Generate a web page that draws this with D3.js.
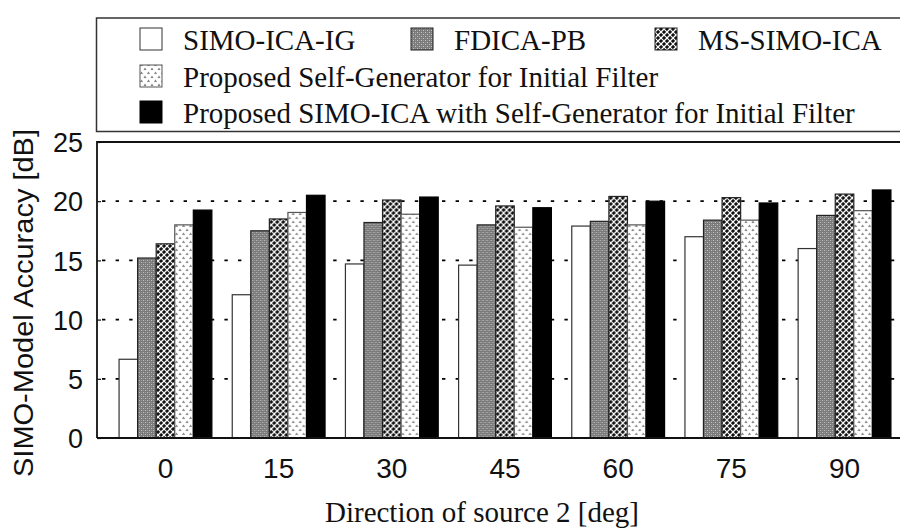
<!DOCTYPE html>
<html>
<head>
<meta charset="utf-8">
<script src="https://cdn.jsdelivr.net/npm/d3@7"></script>
<style>
  html, body { margin: 0; padding: 0; background: #fff; }
  svg { display: block; }
</style>
</head>
<body>
<svg id="chart" width="900" height="528"></svg>
<script>
// Direction of source 2 (deg)
const categories = ["0", "15", "30", "45", "60", "75", "90"];

// SIMO-model accuracy in dB for each method
const simoIcaIg       = [6.65, 12.1, 14.7, 14.6, 17.9, 17.0, 16.0];
const fdicaPb         = [15.2, 17.5, 18.2, 18.0, 18.3, 18.4, 18.8];
const msSimoIca       = [16.4, 18.5, 20.1, 19.6, 20.4, 20.3, 20.6];
const proposedSelfGen = [18.0, 19.05, 18.9, 17.8, 18.0, 18.4, 19.2];
const proposedSimoIca = [19.25, 20.5, 20.35, 19.45, 20.0, 19.85, 20.95];

const seriesNames = [
  "SIMO-ICA-IG",
  "FDICA-PB",
  "MS-SIMO-ICA",
  "Proposed Self-Generator for Initial Filter",
  "Proposed SIMO-ICA with Self-Generator for Initial Filter"
];
const seriesValues = [simoIcaIg, fdicaPb, msSimoIca, proposedSelfGen, proposedSimoIca];

const yTicks = [0, 5, 10, 15, 20, 25];
const yGrid = [5, 10, 15, 20];

const svg = d3.select("#chart");
const defs = svg.append("defs");

// Fill patterns for the monochrome bars
// fine grey screen
const pGray = defs.append("pattern").attr("id", "pGray")
  .attr("patternUnits", "userSpaceOnUse").attr("width", 4).attr("height", 4);
pGray.append("rect").attr("width", 4).attr("height", 4).attr("fill", "#7a7a7a");
pGray.append("rect").attr("x", 0).attr("y", 0).attr("width", 1).attr("height", 1).attr("fill", "#c4c4c4");
pGray.append("rect").attr("x", 2).attr("y", 2).attr("width", 1).attr("height", 1).attr("fill", "#c4c4c4");
pGray.append("rect").attr("x", 2).attr("y", 0).attr("width", 1).attr("height", 1).attr("fill", "#999");
pGray.append("rect").attr("x", 0).attr("y", 2).attr("width", 1).attr("height", 1).attr("fill", "#999");

// woven black/white lattice
const pWeave = defs.append("pattern").attr("id", "pWeave")
  .attr("patternUnits", "userSpaceOnUse").attr("width", 6).attr("height", 6);
pWeave.append("rect").attr("width", 6).attr("height", 6).attr("fill", "#111");
pWeave.append("path").attr("d", "M-1,1 L1,-1 M0,6 L6,0 M5,7 L7,5")
  .attr("stroke", "#fff").attr("stroke-width", 1.3);
pWeave.append("path").attr("d", "M-1,5 L1,7 M0,0 L6,6 M5,-1 L7,1")
  .attr("stroke", "#fff").attr("stroke-width", 1.1);

// sparse grey caret dots
const pDots = defs.append("pattern").attr("id", "pDots")
  .attr("patternUnits", "userSpaceOnUse").attr("width", 7).attr("height", 8);
pDots.append("rect").attr("width", 7).attr("height", 8).attr("fill", "#fff");
pDots.append("path").attr("d", "M0.5,3 L1.5,1.5 L2.5,3 M4,7 L5,5.5 L6,7")
  .attr("stroke", "#808080").attr("stroke-width", 1.1).attr("fill", "none");

const fills = ["#fff", "url(#pGray)", "url(#pWeave)", "url(#pDots)", "#000"];
const strokes = ["#333", "#222", "#222", "#555", "#000"];

const serif = "Liberation Serif, Times New Roman, serif";
const sans = "Liberation Sans, Arial, sans-serif";

// Scales
const plot = { left: 97, top: 142, right: 913, bottom: 438 };
const x0 = d3.scaleBand().domain(categories)
  .range([plot.left, plot.right]).paddingInner(0.18).paddingOuter(0.195);
const x1 = d3.scaleBand().domain(d3.range(seriesNames.length))
  .range([0, x0.bandwidth()]);
const y = d3.scaleLinear().domain([0, 25]).range([plot.bottom, plot.top]);

// Dotted grid lines behind the bars
svg.append("g").selectAll("line").data(yGrid).join("line")
  .attr("x1", plot.left).attr("x2", plot.right)
  .attr("y1", d => y(d)).attr("y2", d => y(d))
  .attr("stroke", "#000").attr("stroke-width", 1.8)
  .attr("stroke-dasharray", "3.4,10.2")
  .attr("stroke-dashoffset", -5);

// Bars
const groups = svg.append("g").selectAll("g").data(categories).join("g")
  .attr("transform", c => `translate(${x0(c)},0)`);
groups.selectAll("rect")
  .data((c, i) => seriesValues.map((vals, s) => ({ s, v: vals[i] })))
  .join("rect")
  .attr("x", d => x1(d.s))
  .attr("width", x1.bandwidth())
  .attr("y", d => y(d.v))
  .attr("height", d => y(0) - y(d.v))
  .attr("fill", d => fills[d.s])
  .attr("stroke", d => strokes[d.s])
  .attr("stroke-width", 1.2);

// Frame
svg.append("path")
  .attr("d", `M${plot.left},${plot.bottom} L${plot.left},${plot.top} L${plot.right},${plot.top}`)
  .attr("fill", "none").attr("stroke", "#111").attr("stroke-width", 1.8);
svg.append("line")
  .attr("x1", plot.left).attr("x2", plot.right)
  .attr("y1", plot.bottom).attr("y2", plot.bottom)
  .attr("stroke", "#111").attr("stroke-width", 2.2);

// Y axis
const yAxis = d3.axisLeft(y).tickValues(yTicks).tickSize(-4).tickPadding(14);
const gy = svg.append("g").attr("transform", `translate(${plot.left},0)`).call(yAxis);
gy.select(".domain").remove();
gy.selectAll(".tick line").attr("stroke", "#111").attr("stroke-width", 1.2);
gy.selectAll(".tick text")
  .attr("font-family", sans)
  .attr("font-size", 27).attr("fill", "#111").attr("dy", "0.36em");

// X axis
const xAxis = d3.axisBottom(x0).tickSize(0).tickPadding(20);
const gx = svg.append("g").attr("transform", `translate(0,${plot.bottom})`).call(xAxis);
gx.select(".domain").remove();
gx.selectAll(".tick text")
  .attr("font-family", sans)
  .attr("font-size", 28).attr("fill", "#111");

// Axis titles
svg.append("text")
  .attr("transform", `translate(33,303) rotate(-90)`)
  .attr("text-anchor", "middle")
  .attr("font-family", sans)
  .attr("font-size", 28).attr("fill", "#111")
  .attr("textLength", 348).attr("lengthAdjust", "spacingAndGlyphs")
  .text("SIMO-Model Accuracy [dB]");

svg.append("text")
  .attr("x", 482).attr("y", 522)
  .attr("text-anchor", "middle")
  .attr("font-family", serif)
  .attr("font-size", 29).attr("fill", "#111")
  .text("Direction of source 2 [deg]");

// Legend
svg.append("rect")
  .attr("x", 96.5).attr("y", 18).attr("width", 900).attr("height", 113.5)
  .attr("fill", "#fff").attr("stroke", "#333").attr("stroke-width", 1.5);

const legendPos = [
  { x: 140, y: 50 }, { x: 411, y: 50 }, { x: 655, y: 50 },
  { x: 140, y: 87 }, { x: 140, y: 123 }
];
const leg = svg.append("g").selectAll("g").data(seriesNames).join("g")
  .attr("transform", (d, i) => `translate(${legendPos[i].x},${legendPos[i].y})`);
leg.append("rect")
  .attr("x", 0).attr("y", -22).attr("width", 22).attr("height", 22)
  .attr("fill", (d, i) => fills[i]).attr("stroke", (d, i) => strokes[i]).attr("stroke-width", 1);
leg.append("text")
  .attr("x", 43).attr("y", 0)
  .attr("font-family", serif)
  .attr("font-size", 29).attr("fill", "#111")
  .text(d => d);
</script>
</body>
</html>
